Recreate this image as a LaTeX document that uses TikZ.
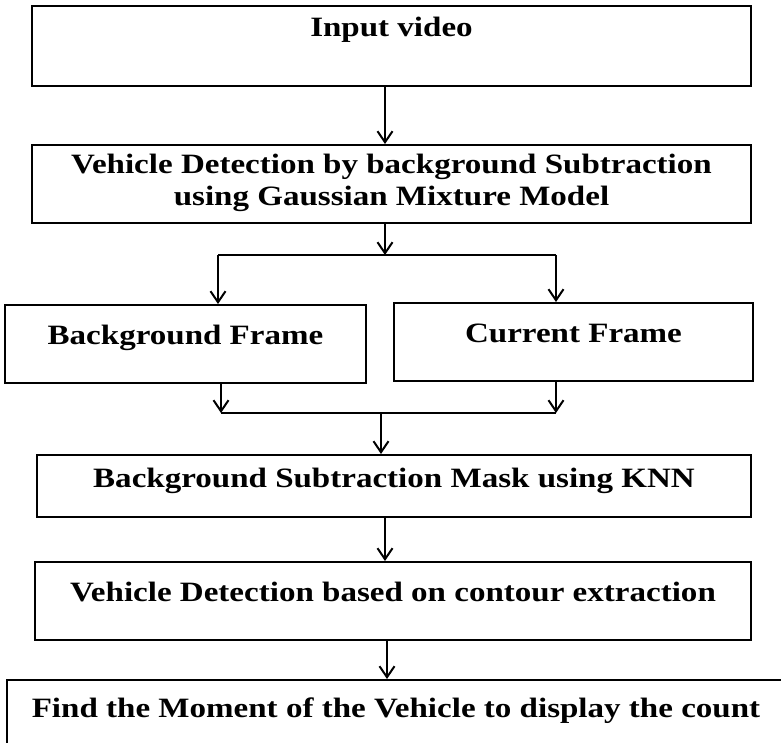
\documentclass[tikz,border=0pt]{standalone}
\usepackage{fontspec}
\usepackage{tikz}
\usetikzlibrary{positioning,arrows.meta}
\newfontfamily\flowfont[FakeStretch=1.18]{Liberation Serif}

\tikzset{
  box/.style={rectangle, draw, line width=2pt},
  boxtext/.style={anchor=center, align=center, font=\flowfont\bfseries\fontsize{28}{32}\selectfont},
  arr/.style={line width=2pt, -{Straight Barb[length=11pt,width=15pt,line width=2pt]}}
}

\begin{document}
\begin{tikzpicture}[x=1pt, y=-1pt, line width=2pt]
            \useasboundingbox (0,0) rectangle (781,743);
            \clip (0,0) rectangle (781,743);

            \node[box, minimum width=719pt, minimum height=80pt,
                  label={[boxtext, yshift=-25pt]north:Input video}] (input) at (391.5,46) {};
            \node[box, minimum width=719pt, minimum height=78pt,
                  label={[boxtext, yshift=-39pt]north:Vehicle Detection by background Subtraction\\using Gaussian Mixture Model}]
                  (gmm) [below=57pt of input] {};

            \node[box, minimum width=361pt, minimum height=78pt,
                  label={[boxtext, yshift=-34pt]north:Background Frame}]
                  (bgframe) [below=80pt of gmm, xshift=-206pt] {};
            \node[box, minimum width=359pt, minimum height=78pt,
                  label={[boxtext, yshift=-31pt]north:Current Frame}]
                  (curframe) [right=26pt of bgframe, yshift=2pt] {};

            \node[box, minimum width=714pt, minimum height=62pt,
                  label={[boxtext, yshift=-27pt]north:Background Subtraction Mask using KNN}]
                  (knnmask) [below=70pt of bgframe, xshift=208.5pt] {};
            \node[box, minimum width=716pt, minimum height=78pt,
                  label={[boxtext, yshift=-31pt]north:Vehicle Detection based on contour extraction}]
                  (contour) [below=43pt of knnmask, xshift=-1pt] {};
            \node[box, minimum width=800pt, minimum height=100pt,
                  label={[boxtext, yshift=-32pt, xshift=-11pt]north:Find the Moment of the Vehicle to display the count}]
                  (moment) [below=38pt of contour, xshift=14pt] {};

            % split and merge points
            \coordinate (split) at (385,255);
            \coordinate (splitL) at (218,255);
            \coordinate (splitR) at (556,255);
            \coordinate (merge) at (381,413);
            \coordinate (mergeL) at (221,413);
            \coordinate (mergeR) at (556,413);

            \draw[arr] (input.south -| split) -- (gmm.north -| split);
            \draw[arr] (gmm.south -| split) -- (split);
            \draw (splitL) -- (splitR);
            \draw[arr] (splitL) -- (bgframe.north -| splitL);
            \draw[arr] (splitR) -- (curframe.north -| splitR);

            \draw[arr] (bgframe.south -| mergeL) -- (mergeL);
            \draw[arr] (curframe.south -| mergeR) -- (mergeR);
            \draw (mergeL) -- (mergeR);
            \draw[arr] (merge) -- (knnmask.north -| merge);

            \draw[arr] (knnmask.south -| split) -- (contour.north -| split);
            \draw[arr] (contour.south -| 387,0) -- (moment.north -| 387,0);
\end{tikzpicture}
\end{document}
